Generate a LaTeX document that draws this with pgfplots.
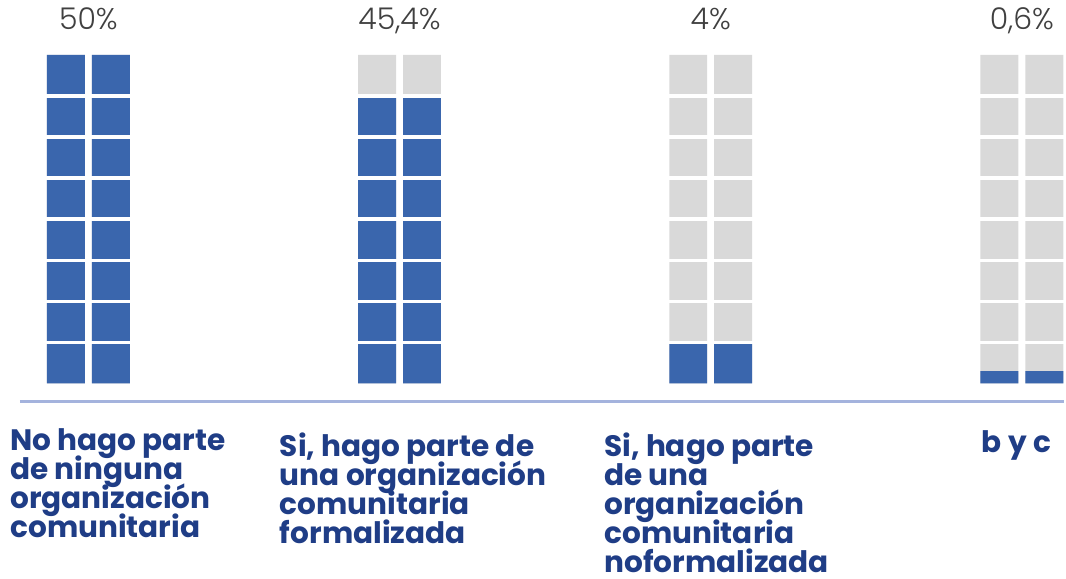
\documentclass[border=0pt]{standalone}
\usepackage{pgfplots}
\pgfplotsset{compat=1.18}
\usepackage{fontspec}
\setmainfont{Poppins}
\newfontfamily\lightfont{Poppins Light}
\definecolor{cellblue}{HTML}{3A66AD}
\definecolor{cellgray}{HTML}{D9D9D9}
\definecolor{labblue}{HTML}{1F3D86}
\definecolor{valgray}{HTML}{404040}
\definecolor{axblue}{HTML}{A4B3DD}
\newcommand\lines[1]{\vtop{\baselineskip=14.5pt\lineskiplimit=-100pt\lineskip=0pt #1}}
\begin{document}
\begin{tikzpicture}
\begin{axis}[
  scale only axis, width=533pt, height=289.5pt,
  xmin=-0.28396, xmax=3.1364, ymin=-4.7416, ymax=9.3374,
  hide axis, clip=false,
]
\draw[draw=none] (rel axis cs:0,0) rectangle (rel axis cs:1,1);
% grey background columns (8 cells each)
\addplot[ybar, bar width=19pt, bar shift=-11.25pt, fill=cellgray, draw=none] coordinates {(0,8) (1,8) (2,8) (3,8)};
\addplot[ybar, bar width=19pt, bar shift=11.25pt, fill=cellgray, draw=none] coordinates {(0,8) (1,8) (2,8) (3,8)};
% filled cells
\addplot[ybar, bar width=19pt, bar shift=-11.25pt, fill=cellblue, draw=none] coordinates {(0,8) (1,7) (2,1) (3,0.3)};
\addplot[ybar, bar width=19pt, bar shift=11.25pt, fill=cellblue, draw=none] coordinates {(0,8) (1,7) (2,1) (3,0.3)};
% white gaps between cells
\pgfplotsinvokeforeach{1,...,7}{
  \addplot[white, line width=1.7pt] coordinates {(-0.2,#1) (3.1364,#1)};
}
% baseline rule
\addplot[axblue, line width=1.3pt] coordinates {(-0.2198,-0.4377) (3.1364,-0.4377)};
% percentage labels
\addplot[draw=none, mark=none, nodes near coords, point meta=explicit symbolic,
  every node near coord/.append style={anchor=base, inner sep=0pt, font=\lightfont\fontsize{15}{16}\selectfont, text=valgray}]
  table[meta=lab] {
x y lab
0 8.608 50\%
1 8.608 45,4\%
2 8.608 4\%
3 8.608 0,6\%
};
% category labels
\tikzset{catlab/.style={anchor=base west, inner sep=0pt, text=labblue, font=\bfseries\fontsize{14.8}{14.5}\selectfont}}
\node[catlab] at (axis cs:-0.2519,-1.629)
  {\lines{\hbox{No hago parte}\hbox{de ninguna}\hbox{organización}\hbox{comunitaria}}};
\node[catlab] at (axis cs:0.6144,-1.775)
  {\lines{\hbox{Si, hago parte de}\hbox{una organización}\hbox{comunitaria}\hbox{formalizada}}};
\node[catlab] at (axis cs:1.6572,-1.775)
  {\lines{\hbox{Si, hago parte}\hbox{de una}\hbox{organización}\hbox{comunitaria}\hbox{noformalizada}}};
\node[catlab] at (axis cs:2.870,-1.678)
  {\lines{\hbox{b y c}}};
\end{axis}
\end{tikzpicture}
\end{document}
